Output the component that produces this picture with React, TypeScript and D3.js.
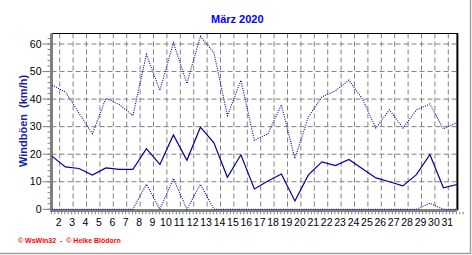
import React from "react";
import * as d3 from "d3";

const days = [1,2,3,4,5,6,7,8,9,10,11,12,13,14,15,16,17,18,19,20,21,22,23,24,25,26,27,28,29,30,31];
const maxGust = [45.1,42.6,35,27.4,40.3,38,34,56.2,43.2,60.4,45.7,62.8,56.8,34,46.8,25,27.4,37.9,18.4,33.5,40.8,43,46.9,40,29.5,36.1,29.5,36.1,38.2,29.2,31.6];
const meanGust = [19.3,15.4,14.8,12.4,15,14.5,14.5,22,16.3,27,17.8,29.8,24.1,11.6,19.8,7.4,10.3,12.8,3,12.5,17.2,15.9,18.1,14.7,11.4,10,8.5,12.6,19.9,7.8,9];
const minGust = [0,0,0,0,0,0,0,9.1,0,11.2,0,9.1,0,0,0,0,0,0,0,0,0,0,0,0,0,0,0,0,2.2,0,0];
const dayLabels = ["2","3","4","5","6","7","8","9","10","11","12","13","14","15","16","17","18","19","20","21","22","23","24","25","26","27","28","29","30","31"];
const yTicks = [0,10,20,30,40,50,60];
const title = "März 2020";
const yTitle = "Windböen  (km/h)";
const footer = "© WsWin32  -  © Heike Blödorn";

export default function App() {
  const W = 472, H = 255;
  const left = 51.5, right = 456.9, top = 33.5, bottom = 209.3;
  const x = d3.scaleLinear().domain([1, 31]).range([51.9, 456.9]);
  const xl = d3.scaleLinear().domain([2, 31]).range([59.7, 448.3]);
  const y = d3.scaleLinear().domain([0, 60]).range([bottom, 44]);
  const mk = (vals: number[]) =>
    d3.line<number>().x((_, i) => x(days[i])).y((v) => y(v))(vals) || "";
  const navy = "#0000a0";
  const grid = "#808080";
  const minorY = d3.range(0, 64, 2);
  const minorX = d3.range(1, 31.6, 0.25);

  return (
    <svg width={W} height={H} style={{ position: "absolute", left: 0, top: 0, background: "#fff" }}
      fontFamily="Arial, 'Liberation Sans', sans-serif">
      <rect x={0} y={0} width={W} height={H} fill="#fff" />
      {yTicks.filter((t) => t > 0).map((t) => (
        <line key={"gy" + t} x1={left} x2={right} y1={y(t)} y2={y(t)} stroke={grid} strokeWidth={1} strokeDasharray="5,3" />
      ))}
      {dayLabels.map((d) => (
        <line key={"gx" + d} x1={xl(+d)} x2={xl(+d)} y1={top} y2={bottom} stroke={grid} strokeWidth={1} strokeDasharray="5,3" />
      ))}
      <line x1={left} x2={right + 1} y1={top} y2={top} stroke="#000" strokeWidth={1} />
      <line x1={right + 0.5} x2={right + 0.5} y1={top} y2={bottom + 1} stroke="#000" strokeWidth={2} />
      <line x1={51.5} x2={51.5} y1={top} y2={bottom + 2.5} stroke={grid} strokeWidth={3} />
      <line x1={50} x2={right} y1={bottom + 1.2} y2={bottom + 1.2} stroke={grid} strokeWidth={3} />
      {minorY.map((t) => (
        <line key={"my" + t} x1={47.5} x2={50} y1={y(t)} y2={y(t)} stroke={grid} strokeWidth={1} />
      ))}
      {yTicks.map((t) => (
        <line key={"ty" + t} x1={42.5} x2={50} y1={y(t)} y2={y(t)} stroke={grid} strokeWidth={1} />
      ))}
      {minorX.map((t, i) => (
        <line key={"mx" + i} x1={x(t) - 0.5} x2={x(t) - 0.5} y1={bottom + 2.5} y2={bottom + 5} stroke={grid} strokeWidth={1} />
      ))}
      <path d={mk(maxGust)} fill="none" stroke={navy} strokeWidth={1.1} strokeDasharray="1,1.3" />
      <path d={mk(meanGust)} fill="none" stroke={navy} strokeWidth={1.2} />
      <path d={mk(minGust)} fill="none" stroke={navy} strokeWidth={1.1} strokeDasharray="1,1.3" />
      {yTicks.map((t) => (
        <text key={"ly" + t} x={41.5} y={y(t)} dy="0.35em" textAnchor="end" fontSize={10.5} fill="#000">{t}</text>
      ))}
      {dayLabels.map((d) => (
        <text key={"lx" + d} x={xl(+d) - 1} y={226} textAnchor="middle" fontSize={10.5} fill="#000">{d}</text>
      ))}
      <text x={237.3} y={23} textAnchor="middle" fontSize={11} fontWeight="bold" fill="#0000ff">{title}</text>
      <text transform="translate(23,121) rotate(-90)" textAnchor="middle" dy="0.35em" fontSize={11} fontWeight="bold" fill="#1c1ca8" style={{ whiteSpace: "pre" }}>{yTitle}</text>
      <text x={18} y={243} fontSize={7} fontWeight="bold" fill="#ff0000" style={{ whiteSpace: "pre" }}>{footer}</text>
      <line x1={470.5} x2={470.5} y1={0} y2={254} stroke="#a0a0a0" strokeWidth={1.5} />
      <line x1={0} x2={471} y1={253.5} y2={253.5} stroke="#a0a0a0" strokeWidth={1.5} />
    </svg>
  );
}
